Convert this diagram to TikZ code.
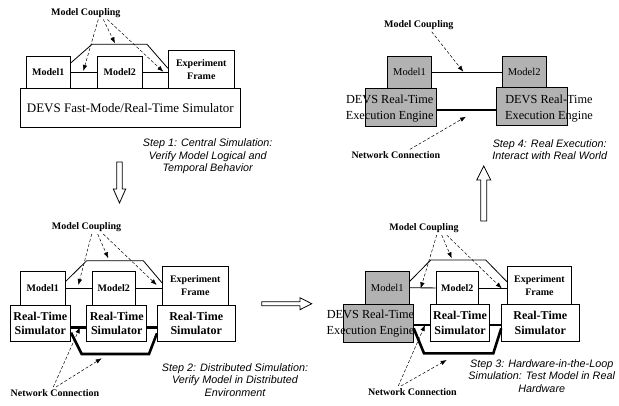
\documentclass[tikz,border=0pt]{standalone}
\usepackage{fontspec}
\setmainfont{Liberation Serif}
\setsansfont{Liberation Sans}
\usetikzlibrary{arrows.meta}
\definecolor{enginegray}{RGB}{178,178,178}

\begin{document}
\begin{tikzpicture}[x=1pt, y=-1pt,
    mbox/.style={draw, line width=0.8pt, fill=white, inner sep=0pt, align=center,
        font=\fontsize{10}{13}\selectfont\bfseries},
    gbox/.style={mbox, fill=enginegray, font=\fontsize{10.5}{13}\selectfont},
    rtbox/.style={mbox, minimum height=36.7pt, font=\fontsize{12}{14.5}\selectfont\bfseries},
    engine/.style={draw, line width=0.8pt, fill=enginegray, inner sep=0pt},
    engtext/.style={inner sep=0pt, align=center, font=\fontsize{12.3}{16}\selectfont},
    lbl/.style={inner sep=2pt, font=\fontsize{10}{12}\selectfont\bfseries},
    steptext/.style={inner sep=0pt, align=center,
        font=\sffamily\itshape\fontsize{10.8}{12.5}\selectfont},
    ptr/.style={-{Latex[length=6pt,width=4.5pt]}, dash pattern=on 3pt off 2pt, line width=0.5pt},
    cpl/.style={line width=0.8pt},
    net/.style={line width=2.6pt},
    bigarrow/.style={draw, line width=0.8pt, fill=white}]
    \useasboundingbox (0,0) rectangle (619,405);

    % step 1: central simulation
    \node[lbl] (mca) at (85.8,12.7) {Model Coupling};
    \node[mbox, minimum width=44.7pt, minimum height=32.7pt] (m1a) at (48.3,72.3) {Model1};
    \node[mbox, minimum width=45pt, minimum height=32.7pt] (m2a) at (119.8,72.3) {Model2};
    \node[mbox, minimum width=66pt, minimum height=38pt] (efa) at (201.3,69.7) {Experiment\\Frame};
    \node[mbox, minimum width=219.3pt, minimum height=38.6pt,
        font=\fontsize{13}{15}\selectfont] (sima) at (130.3,108)
        {DEVS Fast-Mode/Real-Time Simulator};
    \draw[cpl] (m1a) -- (m2a);
    \draw[cpl] (m2a) -- (m2a -| efa.west);
    \draw[cpl] (m1a.east |- 0,62.7) -- (92,44.3) -- (147,44.3) -- (efa.west |- 0,68.3);
    \draw[ptr] ([xshift=12.5pt]mca.south) -- (83.3,71);
    \draw[ptr] ([xshift=17.5pt]mca.south) -- (115,43.3);
    \draw[ptr] ([xshift=21.5pt]mca.south) -- (163.3,71.7);
    \node[steptext] (stepa) at (207.7,156.3)
        {Step 1: Central Simulation:\\Verify Model Logical and\\Temporal Behavior};

    % step 2: distributed simulation
    \node[lbl] (mcb) at (86.5,227.3) {Model Coupling};
    \node[mbox, minimum width=44.3pt, minimum height=33.3pt] (m1b) at (42.8,288.3) {Model1};
    \node[mbox, minimum width=42.7pt, minimum height=33.3pt] (m2b) at (113.7,288.3) {Model2};
    \node[mbox, minimum width=66pt, minimum height=38.3pt] (efb) at (195.3,285.8) {Experiment\\Frame};
    \node[rtbox, minimum width=60.7pt] (rt1) at (40.3,323.3) {Real-Time\\Simulator};
    \node[rtbox, minimum width=60pt] (rt2) at (116.7,323.3) {Real-Time\\Simulator};
    \node[rtbox, minimum width=77.7pt] (rt3) at (196.2,323.3) {Real-Time\\Simulator};
    \draw[cpl] (m1b) -- (m2b);
    \draw[cpl] (m2b) -- (m2b -| efb.west);
    \draw[cpl] (m1b.east |- 0,281.7) -- (86.7,260.7) -- (143.3,260.7) -- (efb.west |- 0,282.7);
    \draw[net] (rt1.east |- 0,327.3) -- (rt2.west |- 0,327.3);
    \draw[net] (rt2.east |- 0,327.3) -- (rt3.west |- 0,327.3);
    \draw[net] (rt1.east |- 0,332.7) -- (81.7,354) -- (149,354) -- (rt3.west |- 0,333.3);
    \draw[ptr] ([xshift=5.2pt]mcb.south) -- (78.3,285);
    \draw[ptr] ([xshift=11.2pt]mcb.south) -- (108.3,258.3);
    \draw[ptr] ([xshift=16.8pt]mcb.south) -- (156.7,285);
    \node[lbl] (ncb) at (55,392.7) {Network Connection};
    \draw[ptr] ([xshift=-1.7pt]ncb.north) -- (80,327.3);
    \draw[ptr] ([xshift=1pt]ncb.north) -- (101.7,358.3);
    \node[steptext] (stepb) at (235,379.7)
        {Step 2: Distributed Simulation:\\Verify Model in Distributed\\Environment};

    % step 3: hardware-in-the-loop
    \node[lbl] (mcc) at (424,228.3) {Model Coupling};
    \node[gbox, minimum width=43.3pt, minimum height=33.3pt] (m1c) at (387.3,287.7) {Model1};
    \node[mbox, minimum width=42.3pt, minimum height=32.6pt] (m2c) at (457.2,288) {Model2};
    \node[mbox, minimum width=64.4pt, minimum height=38.3pt] (efc) at (539.5,285.2) {Experiment\\Frame};
    \node[engine, minimum width=70pt, minimum height=38pt,
        label={[engtext, xshift=-7.8pt, yshift=-0.7pt]center:{DEVS Real-Time\\Execution Engine}}]
        (en3) at (378.3,323.3) {};
    \node[rtbox, minimum width=58.6pt] (rt4) at (460,323) {Real-Time\\Simulator};
    \node[rtbox, minimum width=77.3pt] (rt5) at (540.3,323) {Real-Time\\Simulator};
    \draw[cpl] (m1c) -- (m2c);
    \draw[cpl] (m2c) -- (m2c -| efc.west);
    \draw[cpl] (m1c.east |- 0,281.7) -- (430.7,260) -- (485.7,260) -- (efc.west |- 0,281.7);
    \draw[net] (en3.east |- 0,325) -- (rt4.west |- 0,325);
    \draw[net] (rt4.east |- 0,325) -- (rt5.west |- 0,325);
    \draw[net] (en3.east |- 0,328.3) -- (424,353.3) -- (493.3,353.3) -- (rt5.west |- 0,328.3);
    \draw[ptr] ([xshift=12.7pt]mcc.south) -- (420.7,288.3);
    \draw[ptr] ([xshift=17.7pt]mcc.south) -- (451.7,258.3);
    \draw[ptr] ([xshift=22.7pt]mcc.south) -- (501.7,288.3);
    \node[lbl] (ncc) at (412.5,391.7) {Network Connection};
    \draw[ptr] ([xshift=-14.2pt]ncc.north) -- (425,325);
    \draw[ptr] ([xshift=-11.5pt]ncc.north) -- (446.7,360);
    \node[steptext] (stepc) at (541.7,376)
        {Step 3: Hardware-in-the-Loop\\Simulation: Test Model in Real\\Hardware};

    % step 4: real execution
    \node[lbl] (mcd) at (418.8,25) {Model Coupling};
    \node[gbox, minimum width=44.4pt, minimum height=32.3pt] (m1d) at (409.5,72.2) {Model1};
    \node[gbox, minimum width=43.7pt, minimum height=32.3pt] (m2d) at (524.2,72.2) {Model2};
    \node[engine, minimum width=71pt, minimum height=38.4pt,
        label={[engtext, xshift=-10.8pt, yshift=-1.5pt]center:{DEVS Real-Time\\Execution Engine}}]
        (en1) at (400.5,107.5) {};
    \node[engine, minimum width=71pt, minimum height=38.4pt,
        label={[engtext, xshift=16.8pt, yshift=-1.8pt]center:{DEVS Real-Time\\Execution Engine}}]
        (en2) at (532.2,106.5) {};
    \draw[cpl] (m1d) -- (m2d);
    \draw[net] (en1.east |- 0,110) -- (en2.west |- 0,110);
    \draw[ptr] ([xshift=12.9pt]mcd.south) -- (463.3,71.7);
    \node[lbl] (ncd) at (395.8,155) {Network Connection};
    \draw[ptr] ([xshift=14.2pt]ncd.north) -- (466,116.7);
    \node[steptext] (stepd) at (549.7,149.7)
        {Step 4: Real Execution:\\Interact with Real World};

    % hollow arrows between the steps
    \draw[bigarrow] (116.7,162) -- (122.3,162) -- (122.3,189) -- (125.7,189)
        -- (119.5,203) -- (113.3,189) -- (116.7,189) -- cycle;
    \draw[bigarrow] (261.7,301.7) -- (300,301.7) -- (300,297.7) -- (311.7,303.7)
        -- (300,309.7) -- (300,305.7) -- (261.7,305.7) -- cycle;
    \draw[bigarrow] (480.7,221) -- (480.7,180) -- (476.7,180) -- (483.7,166)
        -- (490.7,180) -- (486.7,180) -- (486.7,221) -- cycle;
\end{tikzpicture}
\end{document}
